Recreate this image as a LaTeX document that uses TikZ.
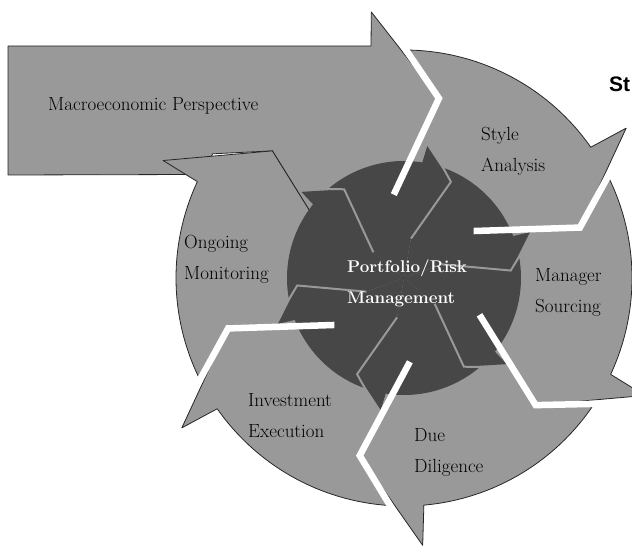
\documentclass[tikz,border=0pt]{standalone}
\usepackage{fontspec}
\newfontfamily\titlefont{Liberation Sans}
\usetikzlibrary{calc}
\tikzset{seg fill/.style={fill=black!40,draw=black!85,line width=0.8pt,line join=round}}
\tikzset{hub fill/.style={fill=black!72,draw=none}}
\tikzset{gap line/.style={draw=white,line width=6.5pt,line join=miter,line cap=butt}}
\tikzset{hub gap/.style={draw=black!40,line width=2pt,line join=miter}}
\tikzset{seg labels/.style={font=\fontsize{19}{31}\selectfont,align=left,inner sep=0pt,anchor=west}}
\tikzset{hub labels/.style={font=\fontsize{17}{31}\selectfont\bfseries,text=white,align=left,inner sep=0pt,anchor=west}}
% one chevron piece of the cycle: #1 head angle, #2 tail angle
\newcommand{\ringseg}[2]{%
  \path[seg fill] (0,0) -- (#2:84) -- ({#2-18}:183) -- ({#2-7}:228)
    arc[start angle={#2-7}, end angle={#1+1}, radius=228]
    -- (#1:268) -- ({#1-18}:183) -- (#1:84) -- cycle;}
% one dark piece of the hub
\newcommand{\hubseg}[2]{%
  \path[hub fill] (0,0) -- (#2:40) -- ({#2-16}:107) -- ({#2-9}:117)
    arc[start angle={#2-9}, end angle={#1+1}, radius=117]
    -- (#1:134) -- ({#1-16}:107) -- (#1:40) -- cycle;}

\begin{document}
\begin{tikzpicture}[x=1pt,y=1pt]
  \useasboundingbox (0,0) rectangle (632,557);
  \begin{scope}[shift={(404,279)}]
    % macro arrow: body and its piece of the cycle
    \path[seg fill] (-396,103) -- (-396,232) -- (-33,232) -- (97:268) -- (79:183)
      -- (97:84) -- (0,0) -- (154:84) -- (136:183) -- (147:228)
      arc[start angle=147, end angle=153, radius=228] -- cycle;
    % the five steps
    \foreach \h/\t in {34/97, -26/34, -86/-26, -146/-86, 154/214}
      {\ringseg{\h}{\t}}
    % hub
    \foreach \h [evaluate=\h as \t using \h+60] in {80,20,-40,-100,-160,-220}
      {\hubseg{\h}{\t}}
    \foreach \h [evaluate=\h as \t using \h+60] in {80,20,-40,-100,-160,-220}
      {\draw[hub gap] ({\t-9}:118) -- ({\t-16}:107) -- (\t:40);}
    % white gaps between the steps
    \foreach \t in {97,34,-26,-86,-146}
      {\draw[gap line] ({\t-7}:231) -- ({\t-18}:183) -- (\t:84);}
  \end{scope}

  \node[seg labels](macro) at (48,451){Macroeconomic Perspective};
  \node[seg labels](style) at (481,405.5){Style\\Analysis};
  \node[seg labels](manager) at (535,265){Manager\\Sourcing};
  \node[seg labels](diligence) at (414,104.5){Due\\Diligence};
  \node[seg labels](execution) at (248,141){Investment\\Execution};
  \node[seg labels](monitoring) at (184,297.5){Ongoing\\Monitoring};
  \node[hub labels](portfolio) at (347,273.5){Portfolio/Risk\\Management};
  \node[anchor=base west,inner sep=0pt,font=\titlefont\bfseries\fontsize{21}{21}\selectfont](title) at (609,465){St};
\end{tikzpicture}
\end{document}
